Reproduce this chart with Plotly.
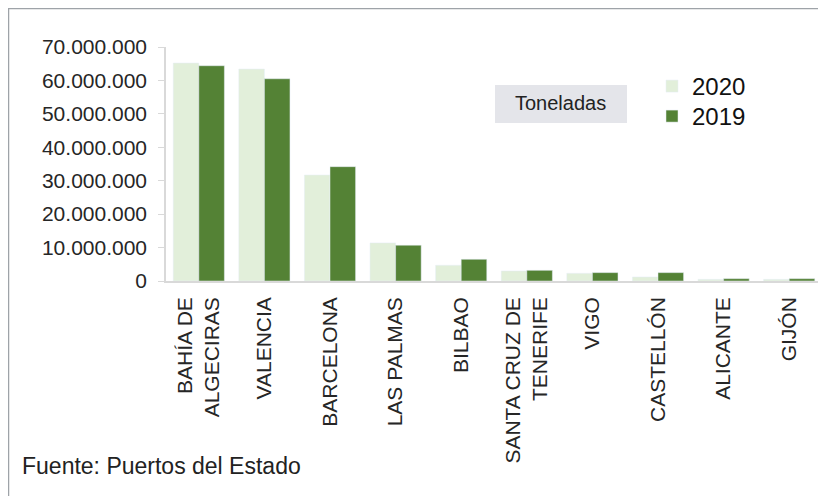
import plotly.graph_objects as go

ports = [
    "BAHÍA DE<br>ALGECIRAS",
    "VALENCIA",
    "BARCELONA",
    "LAS PALMAS",
    "BILBAO",
    "SANTA CRUZ DE<br>TENERIFE",
    "VIGO",
    "CASTELLÓN",
    "ALICANTE",
    "GIJÓN",
]
tons_2020 = [65200000, 63400000, 31700000, 11400000, 4700000,
             3000000, 2300000, 1200000, 500000, 500000]
tons_2019 = [64400000, 60500000, 34200000, 10700000, 6500000,
             3200000, 2500000, 2500000, 700000, 700000]

# the page body adds an 8px margin, so the figure is a little smaller
OFF = 8
W, H = 826 - OFF, 496 - OFF
L, R, T, B = 166 - OFF, 4, 47 - OFF, 215
PW, PH = W - L - R, H - T - B


def px_x(x):
    """Window pixel x -> paper coordinate."""
    return (x - OFF - L) / PW


def px_y(y):
    """Window pixel y -> paper coordinate."""
    return (H - B - (y - OFF)) / PH


font = "Liberation Sans, Arial, sans-serif"
text_color = "#262626"

fig = go.Figure()
fig.add_trace(go.Bar(x=ports, y=tons_2020, name="2020", showlegend=True,
                     marker={"color": "#e2efda"}, legend="legend"))
fig.add_trace(go.Bar(x=ports, y=tons_2019, name="2019", showlegend=True,
                     marker={"color": "#548235"}, legend="legend2"))

legend_style = dict(
    xanchor="left",
    yanchor="top",
    font={"size": 24, "color": "#111111"},
    itemwidth=30,
    bgcolor="rgba(0,0,0,0)",
    visible=True,
)

fig.update_layout(
    width=W,
    height=H,
    margin={"l": L, "r": R, "t": T, "b": B, "pad": 0},
    plot_bgcolor="white",
    paper_bgcolor="white",
    showlegend=True,
    barmode="group",
    bargap=0.22,
    bargroupgap=0,
    separators=",.",
    font={"family": font, "color": text_color},
    legend={"x": px_x(652), "y": px_y(64), **legend_style},
    legend2={"x": px_x(652), "y": px_y(94), **legend_style},
    shapes=[
        # frame of the picture (only top and left edges are visible)
        dict(type="line", xref="paper", yref="paper",
             x0=px_x(OFF), x1=px_x(W + 20), y0=px_y(OFF + 0.5), y1=px_y(OFF + 0.5),
             line={"color": "#9ea3a8", "width": 1.5}),
        dict(type="line", xref="paper", yref="paper",
             x0=px_x(OFF + 0.5), x1=px_x(OFF + 0.5), y0=px_y(OFF), y1=px_y(H + 20),
             line={"color": "#9ea3a8", "width": 1.5}),
        dict(type="rect", xref="paper", yref="paper",
             x0=px_x(495), x1=px_x(627), y0=px_y(123), y1=px_y(85),
             fillcolor="#e4e5ea", line={"width": 0}, layer="below"),
    ],
    annotations=[
        dict(text="Toneladas", xref="paper", yref="paper",
             x=px_x(560), y=px_y(103), xanchor="center", yanchor="middle",
             showarrow=False, font={"size": 20, "color": "#222222"}),
        dict(text="Fuente: Puertos del Estado", xref="paper", yref="paper",
             x=px_x(20), y=px_y(466), xanchor="left", yanchor="middle",
             showarrow=False, font={"size": 23, "color": "#222222"}),
    ],
)

fig.update_xaxes(
    range=[-0.5, 9.5],
    showline=True,
    linecolor="#d9d9d9",
    linewidth=1.5,
    ticks="",
    tickangle=-90,
    tickfont={"size": 21, "color": text_color},
    ticklabelstandoff=6,
    showgrid=False,
    automargin=False,
)
fig.update_yaxes(
    range=[0, 70000000],
    dtick=10000000,
    tickformat=",d",
    showline=True,
    linecolor="#d9d9d9",
    linewidth=1.5,
    ticks="outside",
    ticklen=6,
    tickcolor="#d9d9d9",
    tickfont={"size": 21, "color": text_color},
    ticklabelstandoff=7,
    showgrid=False,
    zeroline=False,
    automargin=False,
)

fig.write_html("out.html")
